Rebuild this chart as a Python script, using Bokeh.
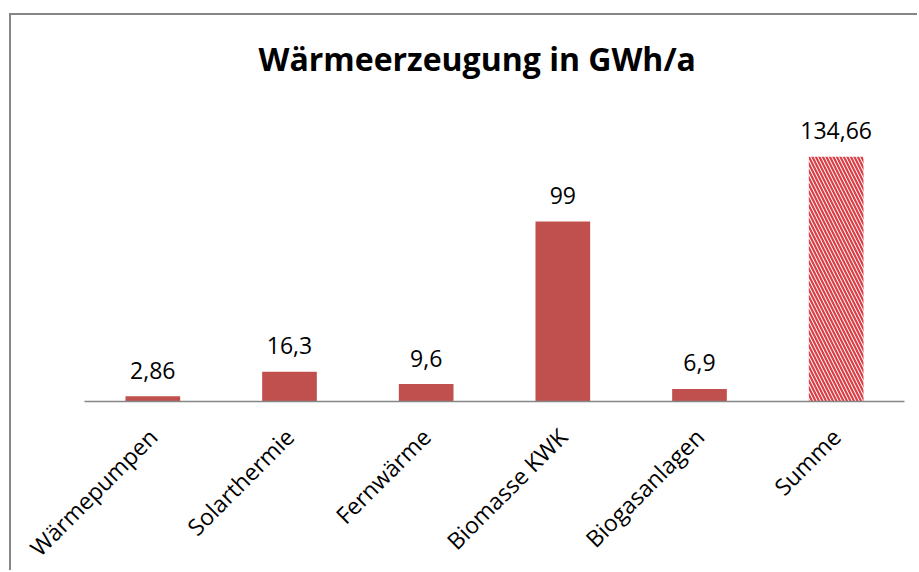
import math
from bokeh.plotting import figure
from bokeh.models import ColumnDataSource, Range1d, LabelSet, FixedTicker
from bokeh.core.properties import value
from bokeh.embed import file_html
from bokeh.resources import INLINE

# ---- data ----
categories = ["Wärmepumpen", "Solarthermie", "Fernwärme", "Biomasse KWK", "Biogasanlagen", "Summe"]
values = [2.86, 16.3, 9.6, 99, 6.9, 134.66]
title_text = "Wärmeerzeugung in GWh/a"

def de_fmt(v):
    return f"{v:g}".replace(".", ",")

value_labels = [de_fmt(v) for v in values]
pos = list(range(len(categories)))

BAR = "#C0504D"
GRAY = "#868686"
FONT = "Open Sans"

p = figure(
    width=908, height=557,
    x_range=Range1d(-1.0341, 5.6098),
    y_range=Range1d(-94.06, 168.3),
    output_backend="svg", toolbar_location=None,
    min_border_left=0, min_border_right=0, min_border_top=80, min_border_bottom=0,
)
p.margin = (13, 0, 0, 9)
p.styles = {"border-left": f"2px solid {GRAY}", "border-top": f"2px solid {GRAY}"}

p.title.text = title_text
p.title.align = "left"
p.title.offset = 247
p.title.text_font = FONT
p.title.text_font_size = "32px"
p.title.text_font_style = "bold"
p.title.text_color = "black"
p.title.standoff = 31

solid = ColumnDataSource(dict(x=pos[:5], top=values[:5]))
summe = ColumnDataSource(dict(x=pos[5:], top=values[5:]))

p.vbar(x="x", top="top", width=0.4, source=solid, fill_color=BAR, line_color=None)
p.vbar(x="x", top="top", width=0.4, source=summe, fill_color="white", line_color=None,
       hatch_pattern="\\", hatch_color="#DA3F46", hatch_scale=7, hatch_weight=2.2)

lab_src = ColumnDataSource(dict(x=pos, y=values, t=value_labels))
labels = LabelSet(x="x", y="y", text="t", source=lab_src, text_align="center",
                  text_baseline="alphabetic", y_offset=17.5,
                  text_font=value(FONT), text_font_size=value("23px"), text_color="black")
p.add_layout(labels)

p.yaxis.visible = False
p.xgrid.visible = False
p.ygrid.visible = False
p.outline_line_color = None

ax = p.xaxis[0]
ax.fixed_location = 0
ax.bounds = (-0.5, len(categories) - 0.5)
ax.ticker = FixedTicker(ticks=pos, minor_ticks=[])
ax.major_label_overrides = {i: c for i, c in zip(pos, categories)}
ax.axis_line_color = GRAY
ax.axis_line_width = 1.5
ax.major_tick_line_color = None
ax.minor_tick_line_color = None
ax.major_label_orientation = math.pi / 4
ax.major_label_text_font = FONT
ax.major_label_text_font_size = "23px"
ax.major_label_text_color = "black"
ax.major_label_standoff = 25

open("out.html", "w").write(file_html(p, INLINE))
